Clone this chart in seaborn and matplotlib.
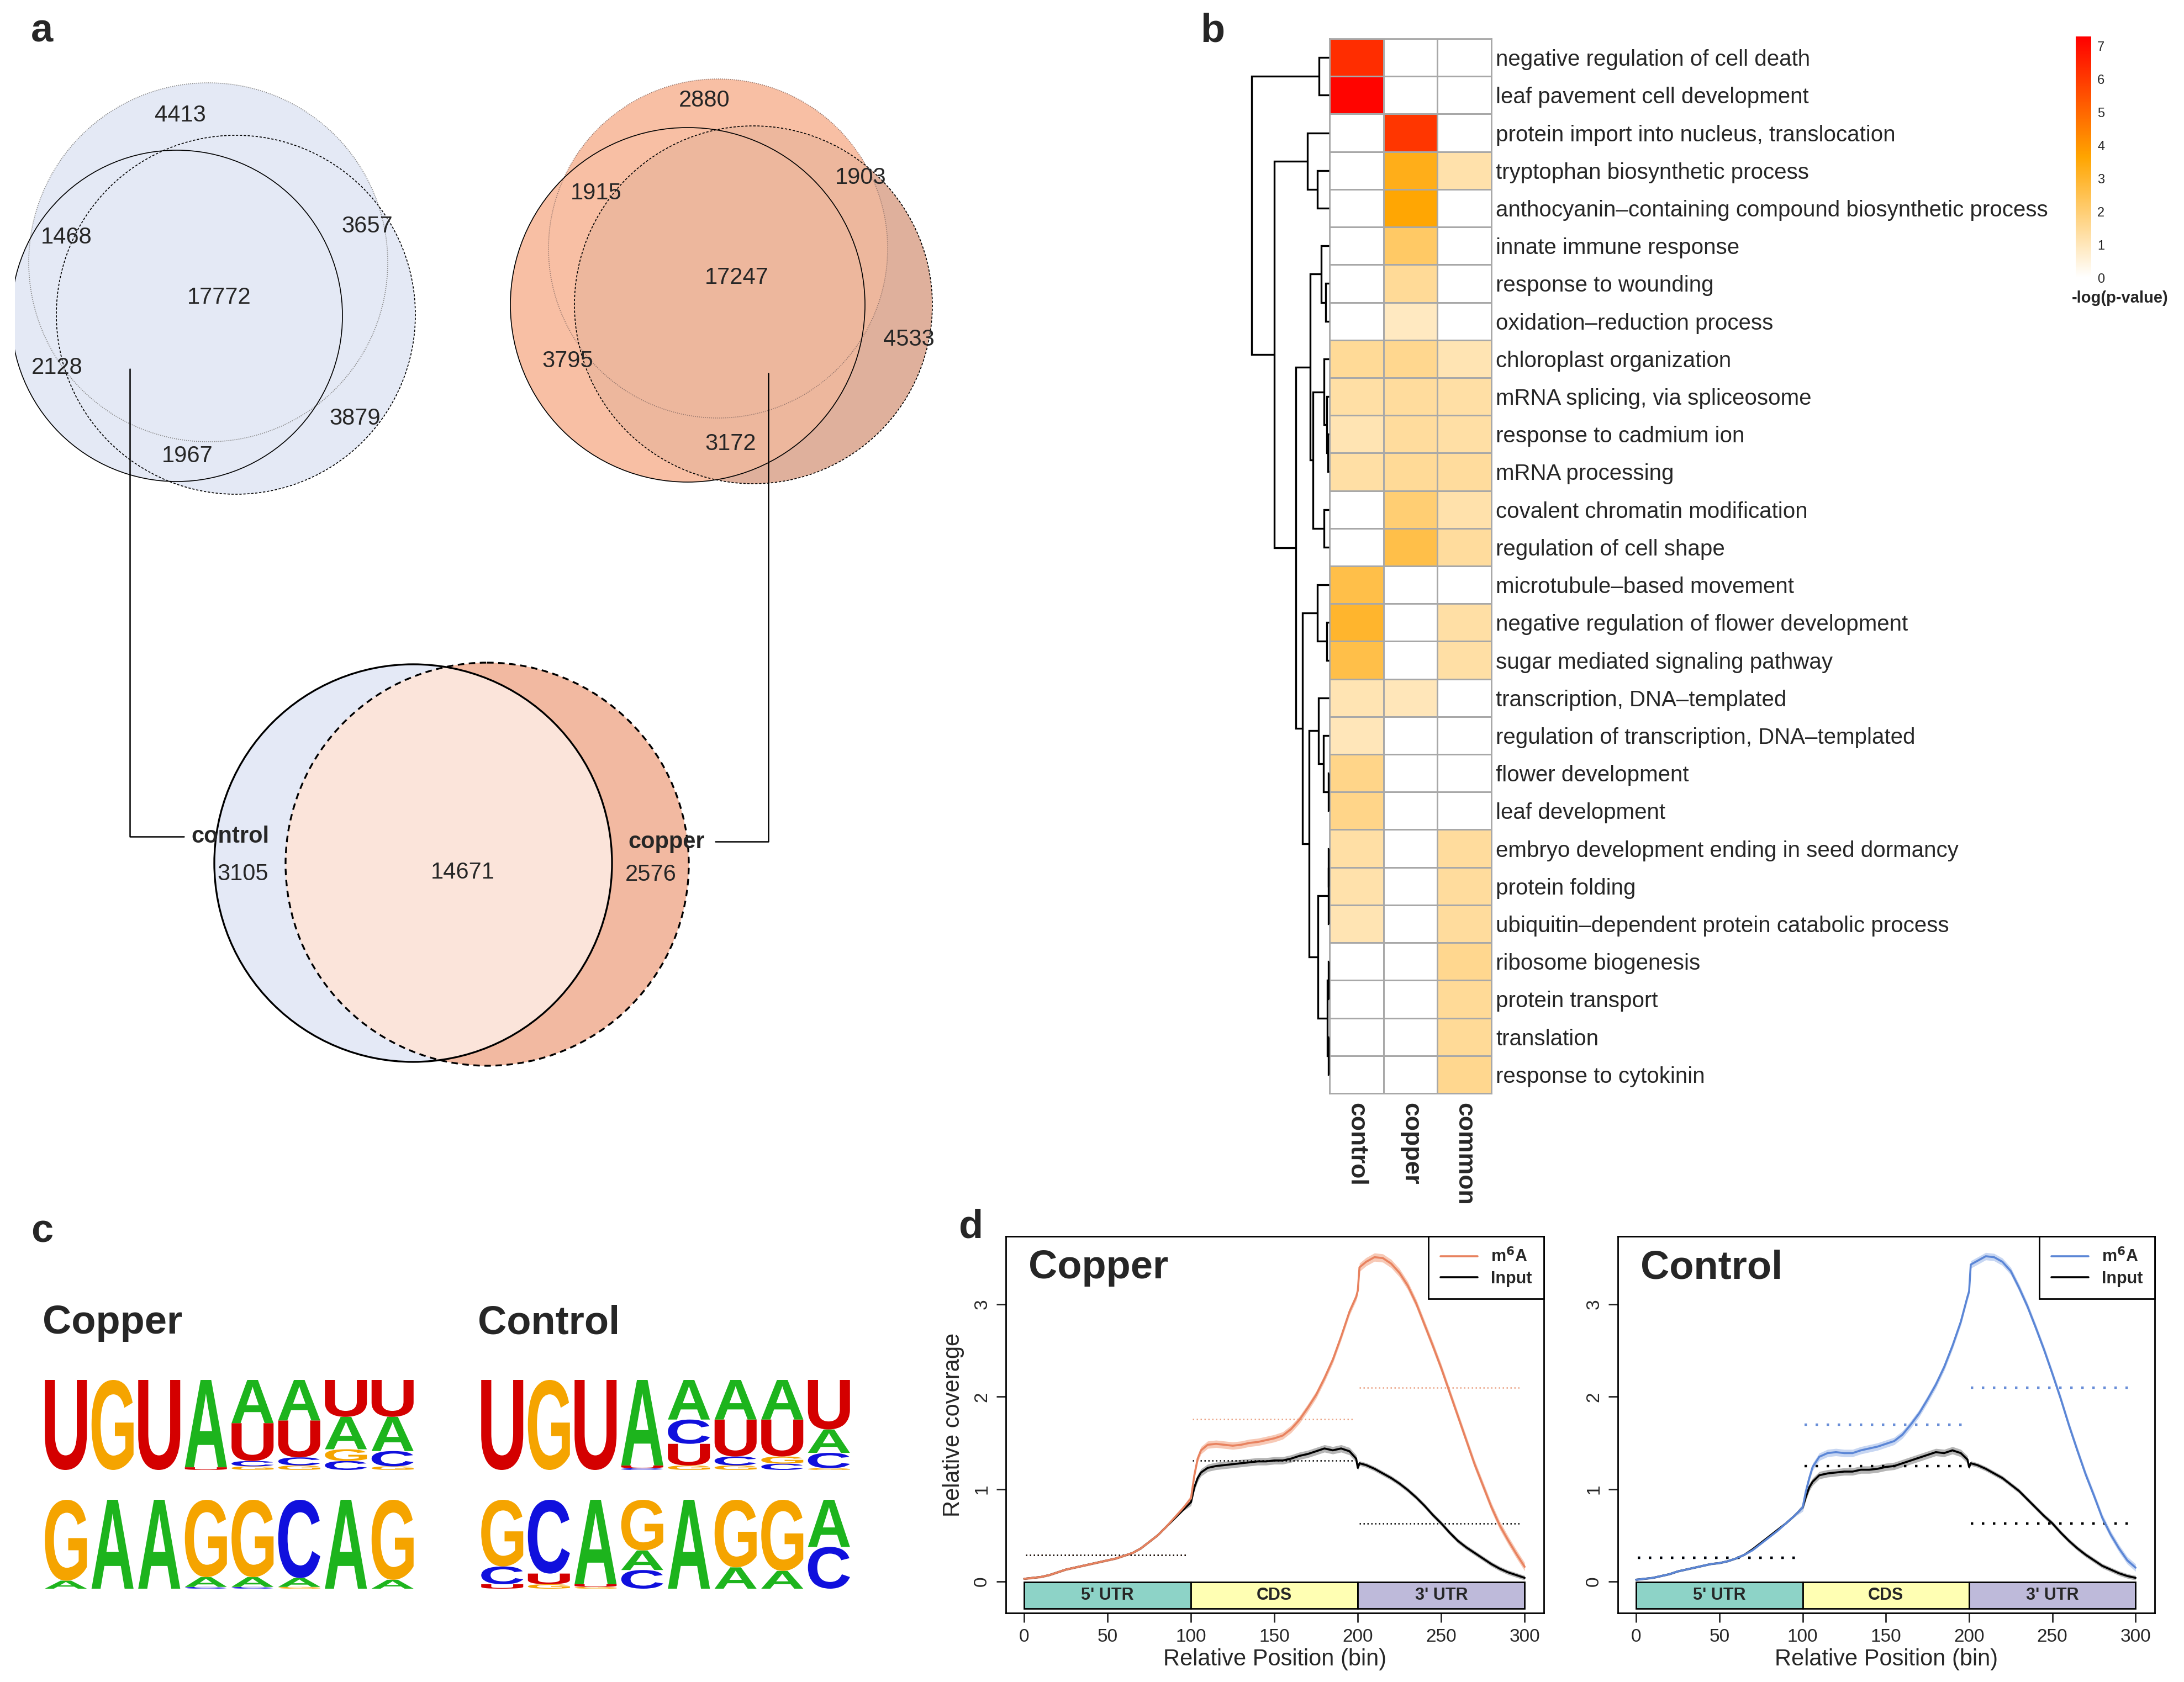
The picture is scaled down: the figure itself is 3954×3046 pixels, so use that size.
import numpy as np
import pandas as pd
import matplotlib
matplotlib.use("Agg")
import matplotlib.pyplot as plt
import seaborn as sns
from matplotlib.patches import Circle, Rectangle, PathPatch
from matplotlib.textpath import TextPath
from matplotlib.font_manager import FontProperties
from matplotlib.transforms import Affine2D
from matplotlib.colors import LinearSegmentedColormap
from matplotlib.lines import Line2D

# ---------------------------------------------------------------- data
# panel a : Venn counts
ctrl_venn_counts = [4413, 1468, 3657, 17772, 2128, 3879, 1967]
copper_venn_counts = [2880, 1915, 1903, 17247, 4533, 3795, 3172]
merged_venn_counts = [3105, 14671, 2576]
merged_venn_names = ["control", "copper"]

# panel b : GO enrichment heatmap (-log p)
go_terms = [
    "negative regulation of cell death",
    "leaf pavement cell development",
    "protein import into nucleus, translocation",
    "tryptophan biosynthetic process",
    "anthocyanin\u2013containing compound biosynthetic process",
    "innate immune response",
    "response to wounding",
    "oxidation\u2013reduction process",
    "chloroplast organization",
    "mRNA splicing, via spliceosome",
    "response to cadmium ion",
    "mRNA processing",
    "covalent chromatin modification",
    "regulation of cell shape",
    "microtubule\u2013based movement",
    "negative regulation of flower development",
    "sugar mediated signaling pathway",
    "transcription, DNA\u2013templated",
    "regulation of transcription, DNA\u2013templated",
    "flower development",
    "leaf development",
    "embryo development ending in seed dormancy",
    "protein folding",
    "ubiquitin\u2013dependent protein catabolic process",
    "ribosome biogenesis",
    "protein transport",
    "translation",
    "response to cytokinin",
]
go_groups = ["control", "copper", "common"]
go_control = [6.3, 7.2, 0, 0, 0, 0, 0, 0, 1.5, 1.3, 1.1, 1.3, 0, 0,
              2.6, 3.0, 2.6, 1.1, 1.0, 1.7, 1.7, 1.3, 1.2, 1.1, 0, 0, 0, 0]
go_copper = [0, 0, 6.1, 3.3, 3.6, 2.2, 1.5, 0.9, 1.6, 1.4, 1.4, 1.5, 2.0, 2.6,
             0, 0, 0, 1.0, 0, 0, 0, 0, 0, 0, 0, 0, 0, 0]
go_common = [0, 0, 0, 1.2, 0, 0, 0, 0, 1.1, 1.3, 1.3, 1.4, 1.2, 1.4,
             0, 1.3, 1.3, 0, 0, 0, 0, 1.4, 1.4, 1.4, 1.6, 1.5, 1.5, 1.6]
# row dendrogram: [left, right, merge height]; leaves are row indices
go_tree = [
    [0, 1, 17.7],
    [
        [2, [3, 4, 21.0], 39.3],
        [
            [
                [5, [6, 7, 6.0], 14.3],
                [[8, [9, [10, 11, 2.0], 4.3], 9.3], [12, 13, 9.3], 29.3],
                34.3,
            ],
            [
                [14, [15, 16, 4.3], 21.0],
                [
                    [17, [18, [19, 20, 1.0], 10.0], 19.3],
                    [[[21, 22, 0.8], 23, 1.3], [[24, 25, 1.0], [26, 27, 1.5], 2.7], 20.0],
                    36.0,
                ],
                47.7,
            ],
            60.0,
        ],
        99.3,
    ],
    140.0,
]

# panel c : motif letter probabilities per position
copper_motif_1 = [
    {"U": 1.0}, {"G": 1.0}, {"U": 1.0}, {"A": 0.97, "U": 0.03},
    {"A": 0.48, "U": 0.42, "C": 0.06, "G": 0.04},
    {"A": 0.45, "U": 0.41, "C": 0.09, "G": 0.05},
    {"U": 0.41, "A": 0.36, "G": 0.13, "C": 0.10},
    {"U": 0.41, "A": 0.38, "C": 0.17, "G": 0.04},
]
copper_motif_2 = [
    {"G": 0.91, "A": 0.09}, {"A": 1.0}, {"A": 1.0},
    {"G": 0.87, "A": 0.11, "C": 0.02}, {"G": 0.87, "A": 0.11, "C": 0.02},
    {"C": 0.88, "A": 0.10, "G": 0.02}, {"A": 1.0}, {"G": 0.90, "A": 0.10},
]
control_motif_1 = [
    {"U": 1.0}, {"G": 1.0}, {"U": 1.0}, {"A": 0.95, "U": 0.03, "C": 0.02},
    {"A": 0.44, "C": 0.27, "U": 0.24, "G": 0.05},
    {"A": 0.44, "U": 0.41, "C": 0.10, "G": 0.05},
    {"A": 0.44, "U": 0.41, "G": 0.08, "C": 0.07},
    {"U": 0.55, "A": 0.26, "C": 0.17, "G": 0.02},
]
control_motif_2 = [
    {"G": 0.75, "C": 0.20, "U": 0.05}, {"C": 0.83, "U": 0.12, "G": 0.05},
    {"A": 0.95, "U": 0.03, "G": 0.02}, {"G": 0.57, "A": 0.22, "C": 0.21},
    {"A": 1.0}, {"G": 0.76, "A": 0.24}, {"G": 0.80, "A": 0.20},
    {"A": 0.53, "C": 0.47},
]

# panel d : metagene coverage
bins = [0, 5, 10, 15, 20, 25, 30, 35, 40, 45, 50, 55, 60, 65, 70, 75, 80, 85, 90, 95, 100,
        102, 104, 106,
        110, 115, 120, 125, 130, 135, 140, 145, 150, 155, 160, 165, 170, 175, 180, 185, 190, 195,
        199, 200, 201,
        205, 210, 215, 220, 225, 230, 235, 240, 245, 250, 255, 260, 265, 270, 275, 280, 285, 290, 295, 300]
copper_m6a = [0.03, 0.04, 0.05, 0.07, 0.10, 0.13, 0.15, 0.17, 0.19, 0.21, 0.23, 0.25, 0.28, 0.31, 0.36,
              0.43, 0.50, 0.59, 0.69, 0.79, 0.90,
              1.15, 1.33, 1.42,
              1.48, 1.49, 1.48, 1.47, 1.48, 1.50, 1.51, 1.53, 1.55, 1.58, 1.65, 1.75, 1.88, 2.02, 2.20,
              2.40, 2.65, 2.92,
              3.08, 3.15, 3.40,
              3.46, 3.51, 3.50, 3.44, 3.34, 3.20, 3.01, 2.78, 2.55, 2.31, 2.05, 1.79, 1.53, 1.27, 1.04,
              0.81, 0.61, 0.45, 0.30, 0.16]
copper_input = [0.03, 0.04, 0.05, 0.07, 0.10, 0.13, 0.15, 0.17, 0.19, 0.21, 0.23, 0.25, 0.28, 0.31, 0.36,
                0.43, 0.50, 0.59, 0.68, 0.77, 0.86,
                1.02, 1.12, 1.18,
                1.23, 1.25, 1.26, 1.27, 1.28, 1.29, 1.30, 1.30, 1.31, 1.31, 1.33, 1.36, 1.38, 1.41, 1.44,
                1.42, 1.44, 1.41,
                1.33, 1.23, 1.28,
                1.26, 1.22, 1.17, 1.12, 1.06, 0.99, 0.91, 0.82, 0.72, 0.63, 0.53, 0.44, 0.37, 0.31, 0.25,
                0.19, 0.14, 0.10, 0.07, 0.04]
control_m6a = [0.02, 0.03, 0.04, 0.06, 0.08, 0.11, 0.13, 0.15, 0.17, 0.19, 0.20, 0.22, 0.25, 0.29, 0.34,
               0.41, 0.48, 0.55, 0.63, 0.71, 0.80,
               0.98, 1.12, 1.24,
               1.35, 1.39, 1.40, 1.39, 1.39, 1.42, 1.44, 1.46, 1.49, 1.52, 1.59, 1.70, 1.82, 1.97, 2.13,
               2.32, 2.55, 2.81,
               3.08, 3.14, 3.43,
               3.47, 3.52, 3.51, 3.46, 3.36, 3.18, 2.98, 2.75, 2.51, 2.25, 1.98, 1.69, 1.42, 1.16, 0.93,
               0.69, 0.51, 0.36, 0.23, 0.15]
control_input = [0.02, 0.03, 0.04, 0.06, 0.08, 0.11, 0.13, 0.15, 0.17, 0.19, 0.20, 0.22, 0.25, 0.29, 0.35,
                 0.42, 0.49, 0.56, 0.63, 0.71, 0.80,
                 0.92, 1.02, 1.08,
                 1.15, 1.17, 1.18, 1.19, 1.19, 1.21, 1.21, 1.22, 1.24, 1.25, 1.28, 1.31, 1.34, 1.37, 1.40,
                 1.39, 1.42, 1.39,
                 1.32, 1.24, 1.28,
                 1.26, 1.22, 1.17, 1.12, 1.05, 0.98, 0.89, 0.80, 0.71, 0.63, 0.53, 0.44, 0.36, 0.29, 0.23,
                 0.17, 0.13, 0.09, 0.06, 0.04]
# half width of the shaded confidence band in each region (5'UTR, CDS, 3'UTR)
copper_m6a_band = [0.012, 0.04, 0.045]
copper_input_band = [0.010, 0.04, 0.025]
control_m6a_band = [0.010, 0.04, 0.04]
control_input_band = [0.010, 0.04, 0.025]
# region means (dotted lines)
copper_m6a_means = [0.29, 1.76, 2.10]
copper_input_means = [0.29, 1.31, 0.63]
control_m6a_means = [0.26, 1.70, 2.10]
control_input_means = [0.26, 1.25, 0.63]
regions = ["5' UTR", "CDS", "3' UTR"]
region_bounds = [(0, 100), (100, 200), (200, 300)]
region_colors = ["#8dd3c7", "#ffffb3", "#bebada"]

# ---------------------------------------------------------------- setup
sns.set_style("white")
plt.rcParams["font.family"] = ["Liberation Sans", "DejaVu Sans"]
plt.rcParams["mathtext.fontset"] = "dejavusans"

W, H, DPI = 3954, 3046, 200
fig = plt.figure(figsize=(W / DPI, H / DPI), dpi=DPI)


def axes_px(x0, y0, x1, y1):
    return fig.add_axes([x0 / W, 1 - y1 / H, (x1 - x0) / W, (y1 - y0) / H])


# overlay in pixel coordinates (for Venn diagrams)
ov = fig.add_axes([0, 0, 1, 1])
ov.set_xlim(0, W)
ov.set_ylim(H, 0)
ov.axis("off")

# ---------------------------------------------------------------- panel a
BLUE = "#e4e9f5"
clip_rect = Rectangle((27, 0), W, H, transform=ov.transData)

# control triple Venn
ctrl_dot = ((377, 475), 325)
ctrl_solid = ((320, 572), 300)
ctrl_dash = ((427, 570), 325)
for (c, r) in [ctrl_dot, ctrl_solid, ctrl_dash]:
    p = Circle(c, r, facecolor=BLUE, edgecolor="none", zorder=1)
    ov.add_patch(p)
    p.set_clip_path(clip_rect)
ov.add_patch(Circle(*ctrl_dot, fill=False, edgecolor="#8a8a8a", lw=0.6, ls=(0, (1, 1.2)), zorder=2))
p = Circle(*ctrl_solid, fill=False, edgecolor="black", lw=0.6, zorder=2)
ov.add_patch(p)
p.set_clip_path(clip_rect)
ov.add_patch(Circle(*ctrl_dash, fill=False, edgecolor="black", lw=0.6, ls=(0, (2.5, 1.8)), zorder=2))
ctrl_lab_pos = [(326, 209), (120, 430), (665, 410), (397, 539), (103, 666), (643, 758), (339, 826)]
for (x, y), v in zip(ctrl_lab_pos, ctrl_venn_counts):
    ov.text(x, y, str(v), fontsize=15, ha="center", va="center", zorder=5)

# copper triple Venn
cu_dot = ((1300, 450), 307)
cu_solid = ((1245, 552), 321)
cu_dash = ((1364, 552), 324)
SALMON = "#f8bfa4"
ov.add_patch(Circle(*cu_dash, facecolor="#e8b8a3", edgecolor="none", zorder=1))
ov.add_patch(Circle(*cu_dot, facecolor=SALMON, edgecolor="none", zorder=1.1))
ov.add_patch(Circle(*cu_solid, facecolor=SALMON, edgecolor="none", zorder=1.1))
ov.add_patch(Circle(*cu_dash, facecolor="#9c7868", alpha=0.11, edgecolor="none", zorder=1.2))
ov.add_patch(Circle(*cu_dot, fill=False, edgecolor="#9a7a70", lw=0.6, ls=(0, (1, 1.2)), zorder=2))
ov.add_patch(Circle(*cu_solid, fill=False, edgecolor="black", lw=0.6, zorder=2))
ov.add_patch(Circle(*cu_dash, fill=False, edgecolor="black", lw=0.6, ls=(0, (2.5, 1.8)), zorder=2))
cu_lab_pos = [(1275, 182), (1079, 350), (1558, 322), (1334, 503), (1645, 615), (1028, 654), (1323, 804)]
for (x, y), v in zip(cu_lab_pos, copper_venn_counts):
    ov.text(x, y, str(v), fontsize=15, ha="center", va="center", zorder=5)

# merged two-set Venn
m_solid = ((748, 1563), 360)
m_dash = ((882, 1565), 365)
ov.add_patch(Circle(*m_solid, facecolor="#e4e9f6", edgecolor="none", zorder=1))
ov.add_patch(Circle(*m_dash, facecolor="#f2b9a1", edgecolor="none", zorder=1))
clip_c = Circle(*m_solid, transform=ov.transData)
inter = Circle(*m_dash, facecolor="#fbe4da", edgecolor="none", zorder=1.5)
ov.add_patch(inter)
inter.set_clip_path(clip_c)
ov.add_patch(Circle(*m_solid, fill=False, edgecolor="black", lw=1.2, zorder=2))
ov.add_patch(Circle(*m_dash, fill=False, edgecolor="black", lw=1.2, ls=(0, (3.5, 2.5)), zorder=2))
for (x, y), v in zip([(440, 1583), (838, 1580), (1178, 1584)], merged_venn_counts):
    ov.text(x, y, str(v), fontsize=15, ha="center", va="center", zorder=5)
ov.text(417, 1515, merged_venn_names[0], fontsize=15, fontweight="bold", ha="center", va="center", zorder=5)
ov.text(1207, 1525, merged_venn_names[1], fontsize=15, fontweight="bold", ha="center", va="center", zorder=5)
# connectors
ov.plot([235, 235, 333], [668, 1515, 1515], color="black", lw=0.9, zorder=4)
ov.plot([1391, 1391, 1295], [676, 1524, 1524], color="black", lw=0.9, zorder=4)

# ---------------------------------------------------------------- panel b
cmap = LinearSegmentedColormap.from_list("wor", ["#ffffff", "#ffa500", "#ff0000"])
hm_df = pd.DataFrame({"control": go_control, "copper": go_copper, "common": go_common}, index=go_terms)[go_groups]
ax_hm = axes_px(2407, 70, 2700, 1980)
sns.heatmap(hm_df, ax=ax_hm, cmap=cmap, vmin=0, vmax=7.3, cbar=False,
            linewidths=1.0, linecolor="#a8a8a8", xticklabels=True, yticklabels=True)
for s in ax_hm.spines.values():
    s.set_visible(True)
    s.set_color("#a8a8a8")
    s.set_linewidth(1.0)
ax_hm.tick_params(axis="y", left=False, right=True, labelleft=False, labelright=True, length=0, pad=3)
ax_hm.set_yticklabels(go_terms, rotation=0, fontsize=14.5)
ax_hm.tick_params(axis="x", length=0, pad=6)
ax_hm.set_xticklabels(go_groups, rotation=270, fontsize=16, fontweight="bold", va="top", ha="center")
ax_hm.set_xlabel("")
ax_hm.set_ylabel("")

ax_d = axes_px(2256, 70, 2406, 1980)
ax_d.set_xlim(150, 0)
ax_d.set_ylim(len(go_terms), 0)
ax_d.axis("off")


def draw_tree(ax, node):
    if isinstance(node, int):
        return node + 0.5, 0.0
    left, right, h = node
    yl, hl = draw_tree(ax, left)
    yr, hr = draw_tree(ax, right)
    ax.plot([hl, h, h, hr], [yl, yl, yr, yr], color="black", lw=1.2,
            solid_capstyle="butt", solid_joinstyle="miter", clip_on=False)
    return (yl + yr) / 2, h


draw_tree(ax_d, go_tree)

cax = axes_px(3758, 66, 3786, 503)
cb = fig.colorbar(ax_hm.collections[0], cax=cax, ticks=list(range(8)))
cb.outline.set_visible(False)
cb.ax.tick_params(length=0, labelsize=8.5, pad=4)
fig.text(3838 / W, 1 - 540 / H, "-log(p-value)", fontsize=10.5, fontweight="bold", ha="center", va="center")

# ---------------------------------------------------------------- panel c
LETTER_COLORS = {"U": "#d40000", "G": "#f5a400", "A": "#1db41d", "C": "#1010dd"}
logo_fp = FontProperties(family="Liberation Sans", weight="bold")


def draw_logo(ax, motif):
    ax.set_xlim(0.5, len(motif) + 0.5)
    ax.set_ylim(0, 1)
    ax.axis("off")
    for i, col in enumerate(motif):
        y0 = 0.0
        for letter, h in sorted(col.items(), key=lambda kv: kv[1]):
            tp = TextPath((0, 0), letter, size=1, prop=logo_fp)
            bb = tp.get_extents()
            w = 0.9
            tr = (Affine2D().translate(-bb.x0, -bb.y0)
                  .scale(w / bb.width, h / bb.height)
                  .translate(i + 1 - w / 2, y0) + ax.transData)
            ax.add_patch(PathPatch(tp, transform=tr, facecolor=LETTER_COLORS[letter], lw=0))
            y0 += h


draw_logo(axes_px(77, 2499, 753, 2662), copper_motif_1)
draw_logo(axes_px(77, 2716, 753, 2877), copper_motif_2)
draw_logo(axes_px(867, 2499, 1543, 2662), control_motif_1)
draw_logo(axes_px(867, 2716, 1543, 2877), control_motif_2)
fig.text(77 / W, 1 - 2415 / H, "Copper", fontsize=26, fontweight="bold", ha="left", va="baseline")
fig.text(865 / W, 1 - 2415 / H, "Control", fontsize=26, fontweight="bold", ha="left", va="baseline")

# ---------------------------------------------------------------- panel d


def region_of(b):
    return 0 if b < 100 else (1 if b < 200 else 2)


def coverage_panel(ax, m6a, inp, m6a_col, band_col, m6a_band, inp_band, m6a_means, inp_means,
                   mean_col, dot_lw, dot_ls, title, ylabel):
    n = len(bins)
    reg = [region_of(b) for b in bins]
    m6a_hw = np.array([m6a_band[r] for r in reg])
    inp_hw = np.array([inp_band[r] for r in reg])
    ax.fill_between(bins, np.array(inp) - inp_hw, np.array(inp) + inp_hw, color="#b5b5b5", lw=0, zorder=1)
    ax.fill_between(bins, np.array(m6a) - m6a_hw, np.array(m6a) + m6a_hw, color=band_col, lw=0, zorder=1)
    df = pd.DataFrame({"bin": bins * 2, "cov": inp + m6a, "track": ["Input"] * n + ["m6A"] * n})
    sns.lineplot(data=df, x="bin", y="cov", hue="track", hue_order=["Input", "m6A"],
                 palette={"m6A": m6a_col, "Input": "black"},
                 errorbar=None, legend=False, lw=1.3, ax=ax, zorder=3)
    for (s, e), mm, mi in zip(region_bounds, m6a_means, inp_means):
        ax.hlines(mm, s + 1, e - 2, colors=mean_col, lw=dot_lw, linestyles=dot_ls, zorder=2)
        ax.hlines(mi, s + 1, e - 2, colors="black", lw=dot_lw, linestyles=dot_ls, zorder=2)
    for (s, e), name, fc in zip(region_bounds, regions, region_colors):
        ax.add_patch(Rectangle((s, -0.29), e - s, 0.285, facecolor=fc, edgecolor="black", lw=1.0, zorder=4))
        ax.text((s + e) / 2, -0.147, name, fontsize=11, fontweight="bold", ha="center", va="center", zorder=5)
    ax.set_xlim(-11, 311.5)
    ax.set_ylim(-0.34, 3.735)
    ax.set_xticks([0, 50, 100, 150, 200, 250, 300])
    ax.set_yticks([0, 1, 2, 3])
    ax.set_yticklabels(["0", "1", "2", "3"], rotation=90, va="center")
    ax.tick_params(direction="out", length=6, width=1.0, labelsize=12, pad=4,
                   bottom=True, left=True, top=False, right=False)
    for s in ax.spines.values():
        s.set_visible(True)
        s.set_color("black")
        s.set_linewidth(1.0)
    ax.set_xlabel("Relative Position (bin)", fontsize=15, labelpad=2)
    ax.set_ylabel(ylabel, fontsize=15, labelpad=6)
    ax.text(2.5, 3.28, title, fontsize=26, fontweight="bold", ha="left", va="baseline")
    handles = [Line2D([], [], color=m6a_col, lw=1.3), Line2D([], [], color="black", lw=1.3)]
    leg = ax.legend(handles, ["m$^{\\mathbf{6}}$A", "Input"], loc="upper right", borderaxespad=0,
                    frameon=True, fancybox=False, framealpha=1, edgecolor="black",
                    prop={"weight": "bold", "size": 11}, handlelength=2.2, borderpad=0.7,
                    labelspacing=0.25, handletextpad=0.8)
    leg.get_frame().set_linewidth(1.0)


ax_cu = axes_px(1821, 2239, 2795, 2921)
coverage_panel(ax_cu, copper_m6a, copper_input, "#e8825f", "#f7c9b6", copper_m6a_band, copper_input_band,
               copper_m6a_means, copper_input_means, "#eba486", 0.9, (0, (1, 1.8)), "Copper",
               "Relative coverage")
ax_ct = axes_px(2929, 2239, 3901, 2921)
coverage_panel(ax_ct, control_m6a, control_input, "#5b86d6", "#c7d6f2", control_m6a_band, control_input_band,
               control_m6a_means, control_input_means, "#6a8fd8", 1.6, (0, (1, 3.5)), "Control", "")

# ---------------------------------------------------------------- panel letters
for x, y, t in [(76, 76, "a"), (2195, 76, "b"), (76, 2250, "c"), (1758, 2242, "d")]:
    fig.text(x / W, 1 - y / H, t, fontsize=26, fontweight="bold", ha="center", va="baseline")

fig.savefig("out.png", dpi=DPI)
